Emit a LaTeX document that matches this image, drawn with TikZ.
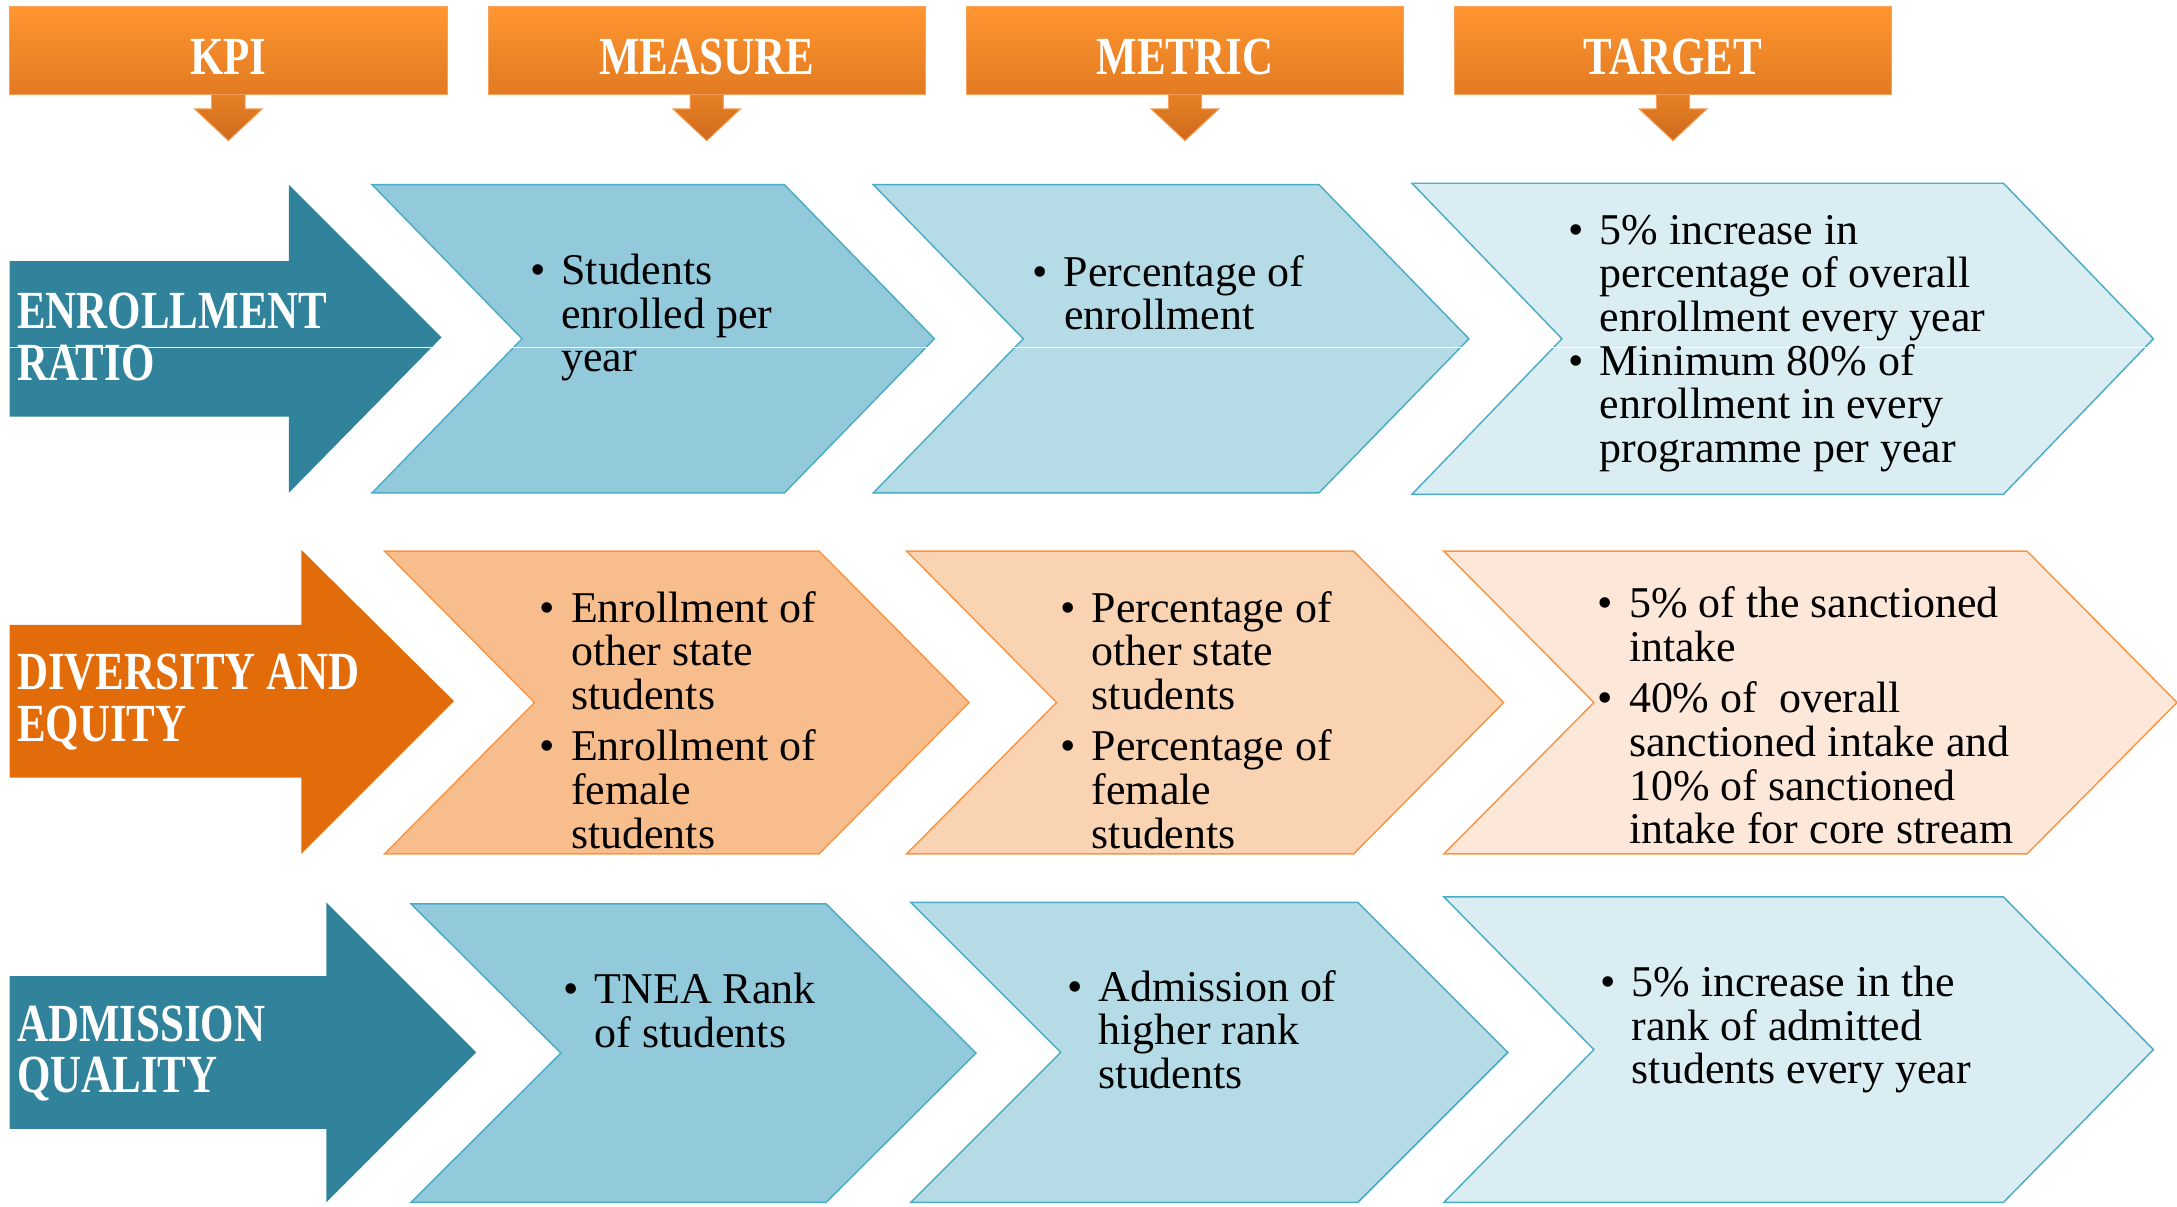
\documentclass[tikz,border=0pt]{standalone}
\usepackage{fontspec}
\setmainfont{Liberation Serif}
\newfontfamily\headfont{Liberation Serif}[FakeStretch=0.8]
\usepackage{xcolor}
\usepackage{tikz}

\definecolor{hdrtop}{HTML}{FF9630}
\definecolor{hdrbot}{HTML}{E27A22}
\definecolor{hdrline}{HTML}{F5A15A}
\definecolor{tiptop}{HTML}{E58024}
\definecolor{tipbot}{HTML}{CF6A1E}
\definecolor{kteal}{HTML}{31839B}
\definecolor{korange}{HTML}{E36C0A}
\definecolor{blueA}{HTML}{92C9DB}
\definecolor{blueB}{HTML}{B5DCE6}
\definecolor{blueC}{HTML}{DAEDF3}
\definecolor{blueline}{HTML}{4BACC6}
\definecolor{orgA}{HTML}{F8BD8C}
\definecolor{orgB}{HTML}{FAD3B2}
\definecolor{orgC}{HTML}{FCE7D8}
\definecolor{orgline}{HTML}{F79646}

\newcommand{\itm}{\makebox[3.6mm][l]{\hspace{-0.9mm}\textbullet}}
\newcommand{\hang}{\hspace*{3.6mm}}

\begin{document}
\begin{tikzpicture}[
      x=0.2mm, y=-0.2mm,
      hdr/.style={draw=hdrline,top color=hdrtop,bottom color=hdrbot,minimum width=63mm,minimum height=12.6mm,
        inner sep=0pt,text=white,text height=7.5mm,text depth=0.5mm,font=\headfont\bfseries\fontsize{22}{21}\selectfont},
      hdrtip/.style={draw=hdrline,top color=tiptop,bottom color=tipbot},
      lbl/.style={anchor=north west,inner sep=0pt,align=left,text=white,font=\headfont\bfseries\fontsize{22}{21}\selectfont},
      txt/.style={anchor=north west,inner sep=0pt,align=left,font=\fontsize{18}{17.9}\selectfont},
      chev/.style={line width=0.6pt},
      bA/.style={chev,fill=blueA,draw=blueline},
      bB/.style={chev,fill=blueB,draw=blueline},
      bC/.style={chev,fill=blueC,draw=blueline},
      oA/.style={chev,fill=orgA,draw=orgline},
      oB/.style={chev,fill=orgB,draw=orgline},
      oC/.style={chev,fill=orgC,draw=orgline},
    ]
    \useasboundingbox (0,0) rectangle (1568,869);

    % Headers
    \node[hdr] (kpi) at (164.5,36.5) {KPI};
    \node[hdr] (measure) at (509,36.5) {MEASURE};
    \node[hdr] (metric) at (853.5,36.5) {METRIC};
    \node[hdr] (target) at (1205,36.5) {TARGET};
    \foreach \h in {kpi,measure,metric,target}
      \draw[hdrtip] ([xshift=-2.4mm]\h.south) -- ([xshift=-2.4mm,yshift=-2mm]\h.south)
        -- ([xshift=-4.9mm,yshift=-2mm]\h.south) -- ([yshift=-6.6mm]\h.south)
        -- ([xshift=4.9mm,yshift=-2mm]\h.south) -- ([xshift=2.4mm,yshift=-2mm]\h.south)
        -- ([xshift=2.4mm]\h.south);

    % KPI arrows
    \fill[kteal] (7,188) -- (208,188) -- (208,133) -- (318,243) -- (208,355) -- (208,300) -- (7,300) -- cycle;
    \fill[korange] (7,450) -- (217,450) -- (217,396) -- (327,505) -- (217,615) -- (217,560) -- (7,560) -- cycle;
    \fill[kteal] (7,703) -- (235,703) -- (235,650) -- (343,758) -- (235,866) -- (235,813) -- (7,813) -- cycle;

    % Chevrons
    \foreach \l/\r/\t/\b/\s in {268/565/133/355/bA, 629/950/133/355/bB, 1017/1443/132/356/bC,
        277/590/397/615/oA, 653/975/397/615/oB, 1040/1460/397/615/oC,
        296/595/651/866/bA, 656/978/650/866/bB, 1040/1443/646/866/bC}
      \draw[\s] (\l,\t) -- (\r,\t) -- ({\r+108},{(\t+\b)/2}) -- (\r,\b) -- (\l,\b)
        -- ({\l+108},{(\t+\b)/2}) -- cycle;
    \draw[white,line width=0.4pt] (7,250) -- (1553,250);

    % Row 1
    \node[lbl] (enr) at (12,211) {ENROLLMENT\\RATIO};
    \node[txt] (mea1) at (386,182.5) {\itm Students\\\hang enrolled per\\\hang year};
    \node[txt] (met1) at (748,183.4) {\itm Percentage of\\\hang enrollment};
    \node[txt] (tar1) at (1134,154.4) {\itm 5\% increase in\\\hang percentage of overall\\\hang enrollment every year\\
      \itm Minimum 80\% of\\\hang enrollment in every\\\hang programme per year};

    % Row 2
    \node[lbl] (div) at (12,471) {DIVERSITY AND\\EQUITY};
    \node[txt] (mea2) at (393,425.4) {\itm Enrollment of\\\hang other state\\\hang students\\[1.1mm]
      \itm Enrollment of\\\hang female\\\hang students};
    \node[txt] (met2) at (768,425.4) {\itm Percentage of\\\hang other state\\\hang students\\[1.1mm]
      \itm Percentage of\\\hang female\\\hang students};
    \node[txt] (tar2) at (1155,422.4) {\itm 5\% of the sanctioned\\\hang intake\\[1.1mm]
      \itm 40\% of~ overall\\\hang sanctioned intake and\\\hang 10\% of sanctioned\\\hang intake for core stream};

    % Row 3
    \node[lbl] (adm) at (12,724) {ADMISSION\\QUALITY};
    \node[txt] (mea3) at (410,700.4) {\itm TNEA Rank\\\hang of students};
    \node[txt] (met3) at (773,698.4) {\itm Admission of\\\hang higher rank\\\hang students};
    \node[txt] (tar3) at (1157,695.4) {\itm 5\% increase in the\\\hang rank of admitted\\\hang students every year};
  \end{tikzpicture}
\end{document}
